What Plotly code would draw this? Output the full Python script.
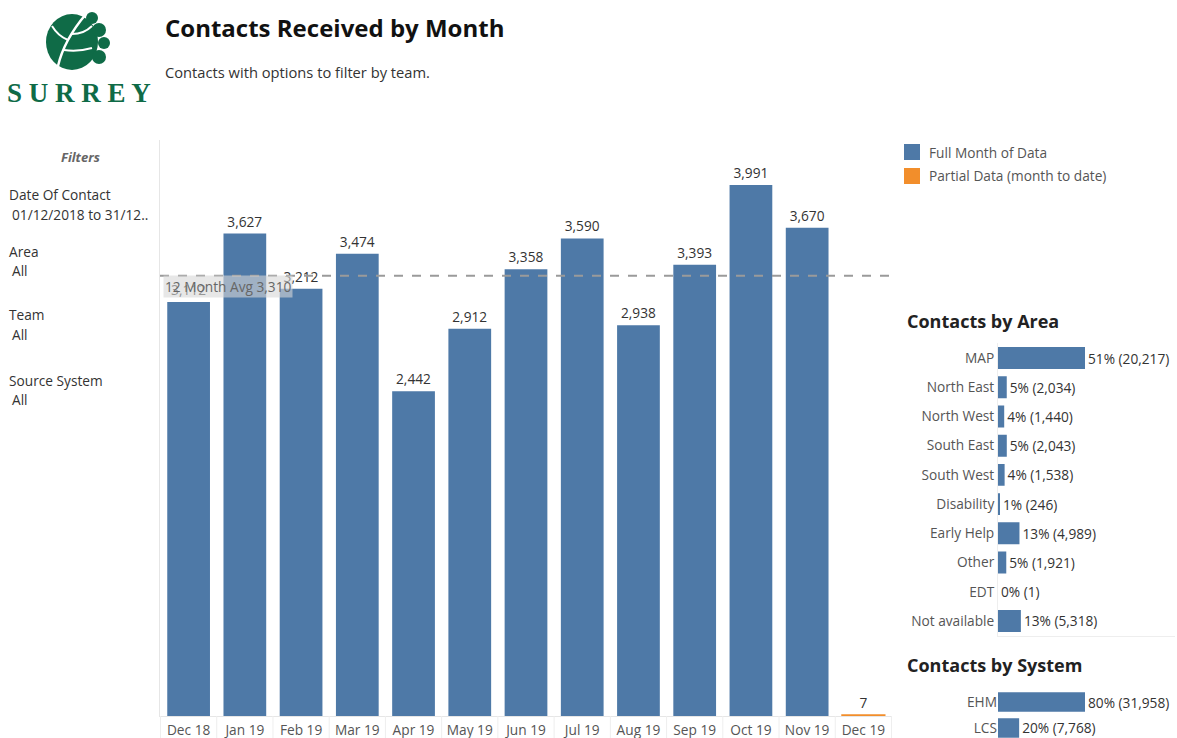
import numpy as np
import plotly.graph_objects as go

W, H = 1177, 738
def px(x): return x / W
def py(y): return 1 - y / H

# ---------------- data ----------------
months = ["Dec 18", "Jan 19", "Feb 19", "Mar 19", "Apr 19", "May 19", "Jun 19",
          "Jul 19", "Aug 19", "Sep 19", "Oct 19", "Nov 19", "Dec 19"]
contacts = [3112, 3627, 3212, 3474, 2442, 2912, 3358, 3590, 2938, 3393, 3991, 3670, 7]
n_full = 12  # last month is partial

areas = ["MAP", "North East", "North West", "South East", "South West", "Disability",
         "Early Help", "Other", "EDT", "Not available"]
area_vals = [20217, 2034, 1440, 2043, 1538, 246, 4989, 1921, 1, 5318]

systems = ["EHM", "LCS"]
system_vals = [31958, 7768]

BLUE = "#4e79a7"
ORANGE = "#f28e2b"
FONT = "Open Sans"
TXT = "#333333"
GREY = "#555555"
FS = 13.7

avg12 = float(np.mean(contacts[:n_full]))

fig = go.Figure()

fig.add_trace(go.Bar(
    x=months[:n_full], y=contacts[:n_full], name="Full Month of Data",
    marker=dict(color=BLUE, line=dict(width=0)),
    texttemplate="%{y:,}", textposition="outside", cliponaxis=False,
    textfont=dict(size=FS, color=TXT, family=FONT), constraintext="none",
    xaxis="x", yaxis="y"))
fig.add_trace(go.Bar(
    x=months[n_full:], y=contacts[n_full:], name="Partial Data (month to date)",
    marker=dict(color=ORANGE, line=dict(width=1.5, color=ORANGE)),
    texttemplate="%{y:,}", textposition="outside", cliponaxis=False,
    textfont=dict(size=FS, color=TXT, family=FONT), constraintext="none",
    xaxis="x", yaxis="y"))

tot_a = sum(area_vals)
fig.add_trace(go.Bar(
    y=areas, x=area_vals, orientation="h", showlegend=False,
    marker=dict(color=BLUE, line=dict(width=0)),
    text=[f"{v / tot_a * 100:.0f}% ({v:,})" for v in area_vals],
    textposition="outside", cliponaxis=False, constraintext="none",
    textfont=dict(size=FS, color=TXT, family=FONT),
    xaxis="x2", yaxis="y2"))

tot_s = sum(system_vals)
fig.add_trace(go.Bar(
    y=systems, x=system_vals, orientation="h", showlegend=False,
    marker=dict(color=BLUE, line=dict(width=0)),
    text=[f"{v / tot_s * 100:.0f}% ({v:,})" for v in system_vals],
    textposition="outside", cliponaxis=False, constraintext="none",
    textfont=dict(size=FS, color=TXT, family=FONT),
    xaxis="x3", yaxis="y3"))

shapes = []
# average line
shapes.append(dict(type="line", xref="paper", yref="y", x0=px(160), x1=px(892),
                   y0=avg12, y1=avg12, line=dict(color="#9a9a9a", width=2, dash="dash")))
# header separators in the month axis
for i in range(len(months) + 1):
    shapes.append(dict(type="line", xref="x", yref="paper", x0=i - 0.5, x1=i - 0.5,
                       y0=py(716), y1=py(738), line=dict(color="#eeeeee", width=1)))
# logo emblem
G = "#0f6b47"
shapes.append(dict(type="circle", xref="paper", yref="paper",
                   x0=px(46), x1=px(98), y0=py(70), y1=py(14),
                   fillcolor=G, line=dict(width=0)))
for (cx, cy, r) in [(99, 30, 7), (104, 43, 6), (99, 57, 7), (92, 18, 6)]:
    shapes.append(dict(type="circle", xref="paper", yref="paper",
                       x0=px(cx - r), x1=px(cx + r), y0=py(cy + r), y1=py(cy - r),
                       fillcolor=G, line=dict(width=0)))
def P(x, y): return f"{px(x):.5f},{py(y):.5f}"
shapes.append(dict(type="path", xref="paper", yref="paper",
                   path=f"M{P(58,66)} Q{P(64,40)} {P(86,14)}",
                   line=dict(color="white", width=2.5)))
shapes.append(dict(type="path", xref="paper", yref="paper",
                   path=f"M{P(68,40)} Q{P(58,36)} {P(52,26)}",
                   line=dict(color="white", width=2)))
shapes.append(dict(type="path", xref="paper", yref="paper",
                   path=f"M{P(72,34)} Q{P(84,34)} {P(92,26)}",
                   line=dict(color="white", width=2)))
shapes.append(dict(type="path", xref="paper", yref="paper",
                   path=f"M{P(64,50)} Q{P(78,52)} {P(92,48)}",
                   line=dict(color="white", width=2)))

# legend swatches
shapes.append(dict(type="rect", xref="paper", yref="paper",
                   x0=px(904), x1=px(920), y0=py(160), y1=py(144),
                   fillcolor=BLUE, line=dict(width=0)))
shapes.append(dict(type="rect", xref="paper", yref="paper",
                   x0=px(904), x1=px(920), y0=py(184), y1=py(168),
                   fillcolor=ORANGE, line=dict(width=0)))

ann = []
def A(x, y, text, size=FS, color=GREY, xanchor="left", yanchor="middle", **kw):
    d = dict(xref="paper", yref="paper", x=px(x), y=py(y), text=text, showarrow=False,
             xanchor=xanchor, yanchor=yanchor,
             font=dict(size=size, color=color, family=kw.pop("family", FONT)))
    d.update(kw)
    ann.append(d)

A(79, 93, "<b>S U R R E Y</b>", size=27, color=G, xanchor="center",
  family="Liberation Serif")
A(163, 27, "<b>Contacts Received by Month</b>", size=24, color="#111111")
A(163, 72, "Contacts with options to filter by team.", size=14.7, color=TXT)

A(80, 157, "<b><i>Filters</i></b>", size=13, color="#666666", xanchor="center")
A(7, 194, "Date Of Contact", size=FS, color=TXT)
A(10, 214, "01/12/2018 to 31/12..", size=FS, color=TXT)
A(7, 251, "Area", size=FS, color=TXT)
A(10, 270, "All", size=FS, color=TXT)
A(7, 315, "Team", size=FS, color=TXT)
A(10, 334, "All", size=FS, color=TXT)
A(7, 380, "Source System", size=FS, color=TXT)
A(10, 399, "All", size=FS, color=TXT)

# legend labels
A(927, 152, "Full Month of Data", size=FS, color=GREY)
A(927, 176, "Partial Data (month to date)", size=FS, color=GREY)

# average label
ann.append(dict(xref="paper", yref="y", x=px(163), y=avg12, yshift=-11,
                text=f"12 Month Avg {avg12:,.0f}", showarrow=False,
                xanchor="left", yanchor="middle",
                font=dict(size=FS, color="#666666", family=FONT),
                bgcolor="rgba(215,215,215,0.6)", borderpad=1))

A(905, 321, "<b>Contacts by Area</b>", size=18, color="#222222")
A(905, 665, "<b>Contacts by System</b>", size=18, color="#222222")

fig.update_layout(
    width=W, height=H, margin=dict(l=0, r=0, t=0, b=0),
    paper_bgcolor="white", plot_bgcolor="white",
    font=dict(family=FONT, size=FS, color=GREY),
    barmode="overlay", bargap=0.24, showlegend=False,
    shapes=shapes, annotations=ann,
    xaxis=dict(domain=[px(160), px(892)], type="category", categoryorder="array",
               categoryarray=months, showgrid=False, zeroline=False,
               showline=True, linecolor="#e6e6e6", ticks="",
               tickfont=dict(size=FS, color=GREY), ticklabelstandoff=2),
    yaxis=dict(domain=[py(716), py(140)], range=[0, 4330], showgrid=False,
               zeroline=False, showticklabels=False, showline=True,
               linecolor="#e6e6e6", ticks=""),
    xaxis2=dict(domain=[px(998), px(1175)], range=[0, 20217 * 177 / 87],
                showgrid=False, zeroline=False, showticklabels=False,
                showline=True, linecolor="#eeeeee", ticks="", anchor="y2"),
    yaxis2=dict(domain=[py(635.6), py(343.4)], type="category",
                categoryorder="array", categoryarray=areas, autorange="reversed",
                showgrid=False, zeroline=False, showline=True, linecolor="#eeeeee",
                ticks="", tickfont=dict(size=FS, color=GREY), anchor="x2"),
    xaxis3=dict(domain=[px(998), px(1175)], range=[0, 31958 * 177 / 87],
                showgrid=False, zeroline=False, showticklabels=False,
                showline=False, ticks="", anchor="y3"),
    yaxis3=dict(domain=[0, py(689)], type="category", categoryorder="array",
                categoryarray=systems, range=[1.385, -0.5],
                showgrid=False, zeroline=False, showline=False, ticks="",
                tickfont=dict(size=FS, color=GREY), anchor="x3"),
)
fig.update_traces(selector=dict(type="bar", orientation="h"), width=0.75)

fig.write_html("out.html", config={"displayModeBar": False},
               post_script="document.body.style.margin='0';"
                           "document.body.style.overflow='hidden';")
